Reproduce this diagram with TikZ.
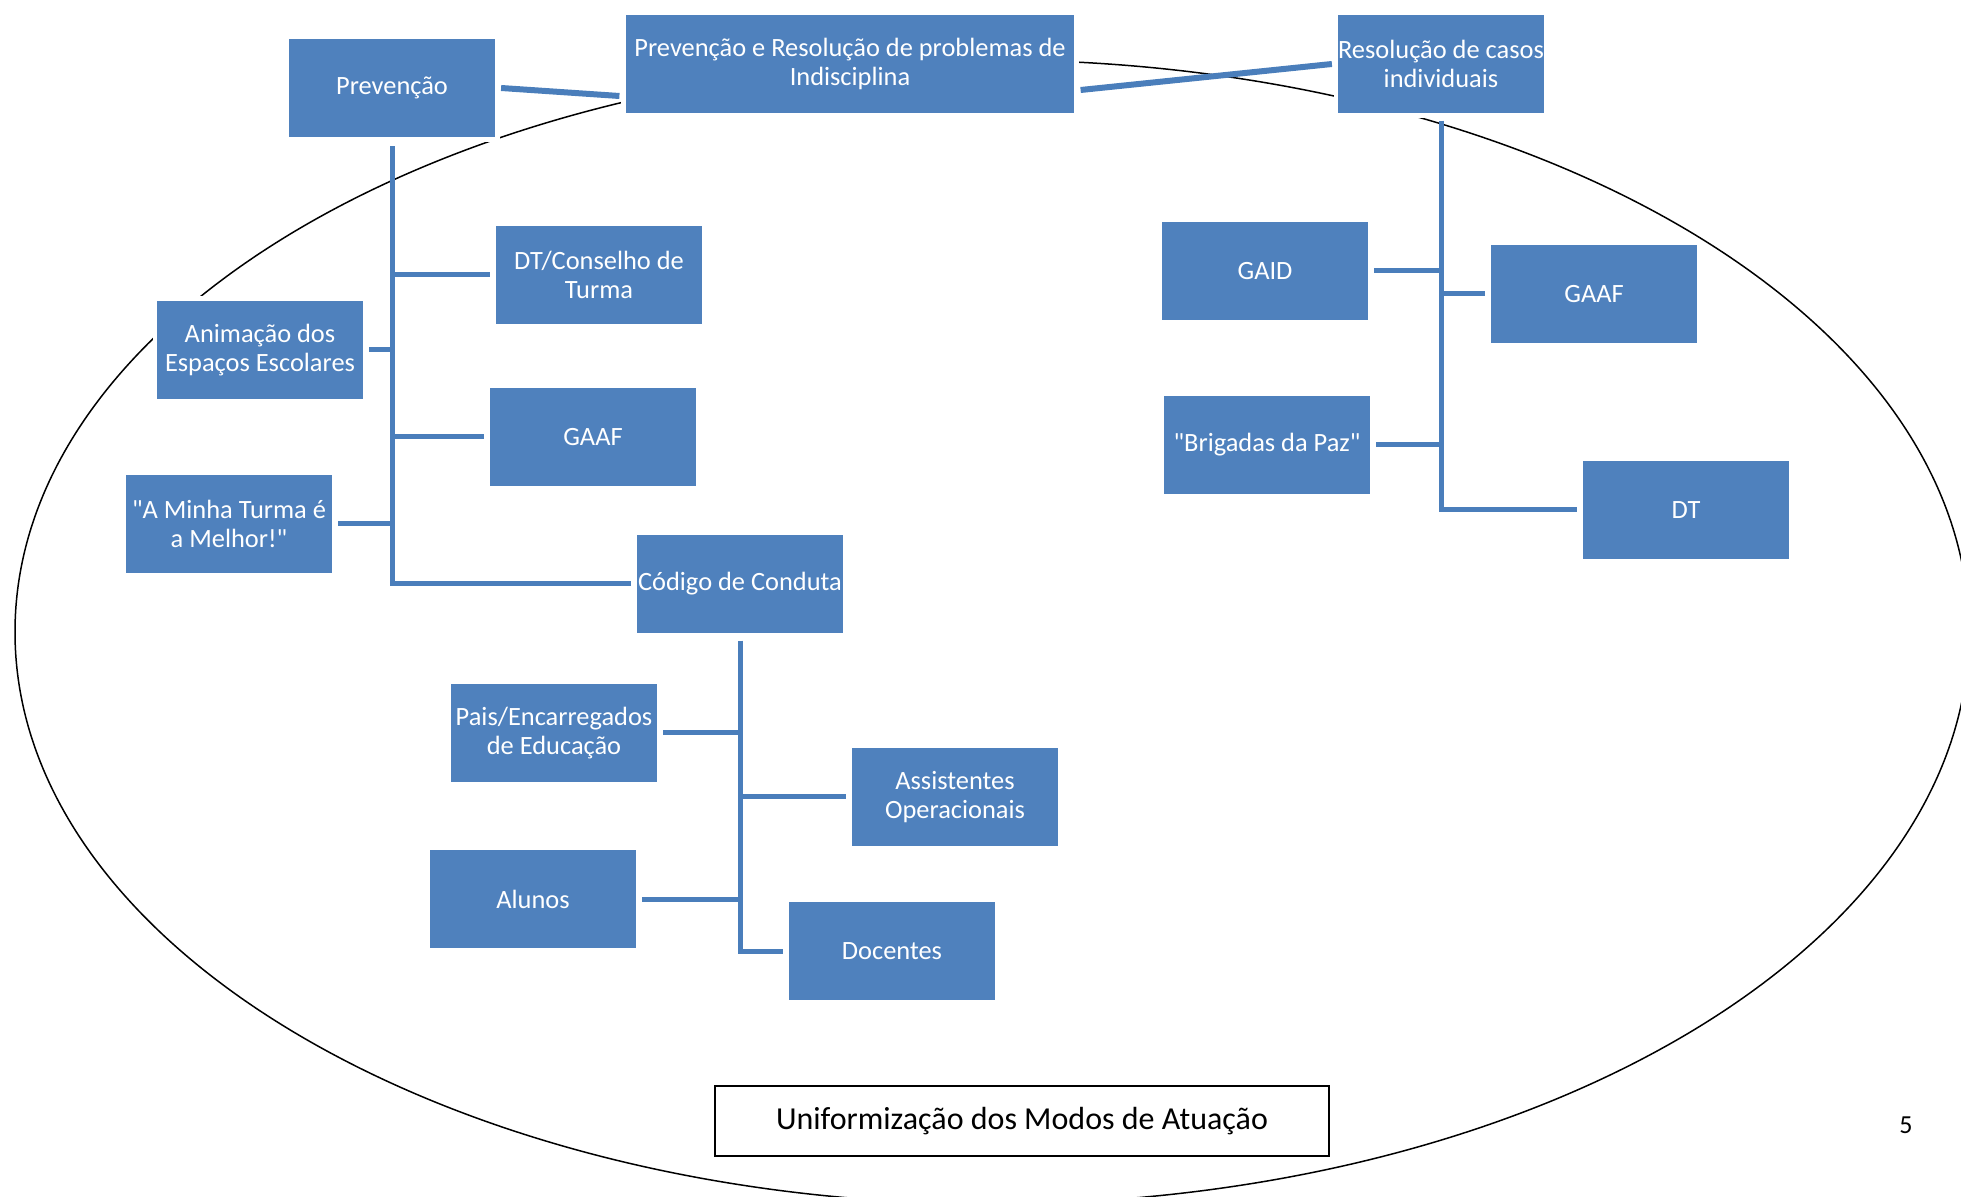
\documentclass[tikz,border=0pt]{standalone}
\usepackage{fontspec}
\setmainfont{Carlito}
\definecolor{boxblue}{HTML}{4F81BD}
\definecolor{linkblue}{HTML}{4A7EBB}
\tikzset{
	box/.style={preaction={draw=white,line width=4pt},fill=boxblue,draw=white,line width=0.6pt,text=white,minimum width=103.5pt,minimum height=50pt,inner sep=0pt,align=center,font=\fontsize{13.2}{14.6}\selectfont},
	link/.style={draw=linkblue,line width=2.5pt},
	mainlink/.style={draw=linkblue,line width=3pt}
}
\begin{document}
\begin{tikzpicture}[x=0.5pt,y=-0.5pt]
		\useasboundingbox (0,0) rectangle (1961,1197);
		\def\cx{992}
		\def\cy{632}
		\draw[line width=0.75pt] (\cx,\cy) ellipse [x radius=488.5pt, y radius=286pt];
		\node[box] (prev) at (392,88) {Prevenção};
		\node[box,minimum width=225pt] (main) at (850,64) {Prevenção e Resolução de problemas de\\Indisciplina};
		\node[box] (resol) at (1441,64) {Resolução de casos\\individuais};
		\node[box] (dtct) at (599,275) {DT/Conselho de\\Turma};
		\node[box] (anim) at (260,350) {Animação dos\\Espaços Escolares};
		\node[box] (gaafl) at (593,437) {GAAF};
		\node[box] (minha) at (229,524) {\textquotedbl A Minha Turma é\\a Melhor!\textquotedbl};
		\node[box] (codigo) at (740,584) {Código de Conduta};
		\node[box] (gaid) at (1265,271) {GAID};
		\node[box] (gaafr) at (1594,294) {GAAF};
		\node[box] (brig) at (1267,445) {\textquotedbl Brigadas da Paz\textquotedbl};
		\node[box] (dt) at (1686,510) {DT};
		\node[box] (pais) at (554,733) {Pais/Encarregados\\de Educação};
		\node[box] (assist) at (955,797) {Assistentes\\Operacionais};
		\node[box] (alunos) at (533,899) {Alunos};
		\node[box] (docentes) at (892,951) {Docentes};
		\node[draw=black,line width=1pt,fill=white,minimum width=307pt,minimum height=35pt,font=\fontsize{16}{19}\selectfont] (unif) at (1022,1121) {Uniformização dos Modos de Atuação};
		\node[font=\fontsize{13}{15}\selectfont] (page) at (1906,1125) {5};
		\draw[mainlink] ([xshift=2.5pt]prev.east) -- ([xshift=-2.5pt,yshift=-16pt]main.west);
		\draw[mainlink] ([xshift=2.5pt,yshift=-13pt]main.east) -- ([xshift=-2.5pt]resol.west);
		\draw[link] ([yshift=-3.75pt]prev.south) |- ([xshift=-2.5pt]codigo.west);
		\draw[link] (prev.south |- dtct.west) -- ([xshift=-2.5pt]dtct.west);
		\draw[link] ([xshift=2.5pt]anim.east) -- (prev.south |- anim.east);
		\draw[link] (prev.south |- gaafl.west) -- ([xshift=-2.5pt]gaafl.west);
		\draw[link] ([xshift=2.5pt]minha.east) -- (prev.south |- minha.east);
		\draw[link] ([yshift=-3pt]resol.south) |- ([xshift=-2.5pt]dt.west);
		\draw[link] ([xshift=2.5pt]gaid.east) -- (resol.south |- gaid.east);
		\draw[link] (resol.south |- gaafr.west) -- ([xshift=-2.5pt]gaafr.west);
		\draw[link] ([xshift=2.5pt]brig.east) -- (resol.south |- brig.east);
		\draw[link] ([yshift=-3pt]codigo.south) |- ([xshift=-2.5pt]docentes.west);
		\draw[link] ([xshift=2.5pt]pais.east) -- (codigo.south |- pais.east);
		\draw[link] (codigo.south |- assist.west) -- ([xshift=-2.5pt]assist.west);
		\draw[link] ([xshift=2.5pt]alunos.east) -- (codigo.south |- alunos.east);
	\end{tikzpicture}
\end{document}
